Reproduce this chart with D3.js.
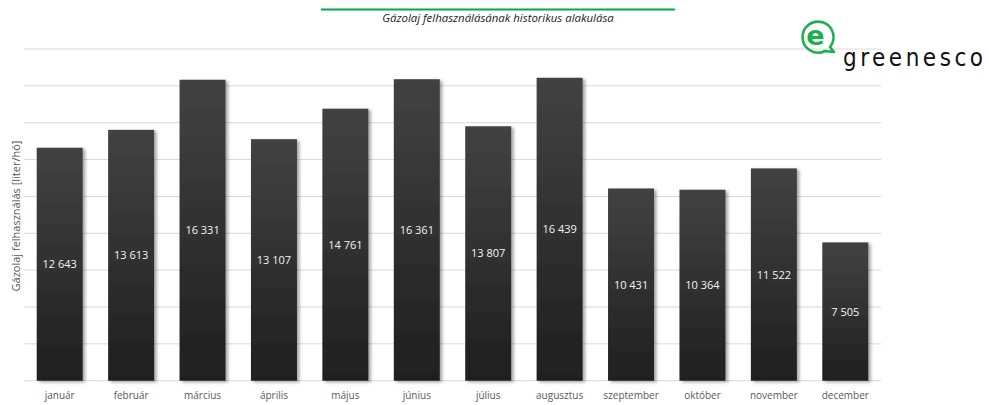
<!DOCTYPE html>
<html><head><meta charset="utf-8">
<script src="https://cdn.jsdelivr.net/npm/d3@7"></script>
<style>body{margin:0;background:#fff}svg{display:block}</style>
</head><body>
<script>
const months = ["január","február","március","április","május","június","július","augusztus","szeptember","október","november","december"];
const values = [12643,13613,16331,13107,14761,16361,13807,16439,10431,10364,11522,7505];
const yTicks = [0,2000,4000,6000,8000,10000,12000,14000,16000,18000];
const title = "Gázolaj felhasználásának historikus alakulása";
const yTitle = "Gázolaj felhasználás [liter/hó]";

const W=989,H=405;
const svg=d3.select("body").append("svg").attr("width",W).attr("height",H);
const defs=svg.append("defs");
const g1=defs.append("linearGradient").attr("id","bg").attr("x1",0).attr("y1",0).attr("x2",0).attr("y2",1);
g1.append("stop").attr("offset","0%").attr("stop-color","#424242");
g1.append("stop").attr("offset","100%").attr("stop-color","#1f1f1f");
const f=defs.append("filter").attr("id","sh").attr("x","-20%").attr("y","-5%").attr("width","150%").attr("height","115%");
f.append("feDropShadow").attr("dx",2.5).attr("dy",1.5).attr("stdDeviation",1.5).attr("flood-color","#000").attr("flood-opacity",0.35);

const x=d3.scaleBand().domain(months).range([24,881]).paddingInner(0.356).paddingOuter(0.178);
const y=d3.scaleLinear().domain([0,18000]).range([380.7,49]);

// gridlines
svg.append("g").selectAll("line").data(yTicks).join("line")
 .attr("x1",24).attr("x2",881).attr("y1",d=>y(d)).attr("y2",d=>y(d))
 .attr("stroke","#d9d9d9").attr("stroke-width",1);

// bars
svg.append("g").selectAll("rect").data(values).join("rect")
 .attr("x",(d,i)=>x(months[i])).attr("width",x.bandwidth())
 .attr("y",d=>y(d)).attr("height",d=>y(0)-y(d))
 .attr("fill","url(#bg)").attr("filter","url(#sh)");

// value labels
svg.append("g").selectAll("text").data(values).join("text")
 .attr("x",(d,i)=>x(months[i])+x.bandwidth()/2)
 .attr("y",d=>(y(d)+y(0))/2+4)
 .attr("text-anchor","middle").attr("fill","#f2f2f2")
 .attr("font-family","'Open Sans',sans-serif").attr("font-size",11)
 .text(d=>d3.format(",")(d).replace(/,/g," "));

// x axis labels
const xa=d3.axisBottom(x).tickSize(0).tickPadding(11);
const gx=svg.append("g").attr("transform",`translate(0,${y(0)})`).call(xa);
gx.select(".domain").remove();
gx.selectAll("text").attr("fill","#595959").attr("font-family","'Open Sans',sans-serif").attr("font-size",10);

// y title
svg.append("text").attr("transform","translate(20,216) rotate(-90)")
 .attr("text-anchor","middle").attr("fill","#595959")
 .attr("font-family","'Open Sans',sans-serif").attr("font-size",11).text(yTitle);

// title
svg.append("line").attr("x1",321).attr("x2",675).attr("y1",9.5).attr("y2",9.5).attr("stroke","#00a94f").attr("stroke-width",2);
svg.append("text").attr("x",498).attr("y",22).attr("text-anchor","middle")
 .attr("font-family","'Open Sans',sans-serif").attr("font-style","italic").attr("font-size",11.4).attr("fill","#222").text(title);

// logo
const lg=svg.append("g");
lg.append("path").attr("d","M830,47 A15.5,15.5 0 1 0 825,51 L834,52 Z")
 .attr("fill","none").attr("stroke","#1db04f").attr("stroke-width",2.6).attr("stroke-linejoin","round");
lg.append("text").attr("x",815.5).attr("y",45).attr("text-anchor","middle").attr("fill","#1db04f")
 .attr("font-family","'DejaVu Sans',sans-serif").attr("font-weight","bold").attr("font-size",27).text("e");
lg.append("text").attr("x",843).attr("y",66).attr("fill","#111")
 .attr("font-family","'DejaVu Sans Condensed','DejaVu Sans',sans-serif").attr("font-size",24)
 .attr("textLength",140).attr("lengthAdjust","spacing").text("greenesco");
</script>
</body></html>
